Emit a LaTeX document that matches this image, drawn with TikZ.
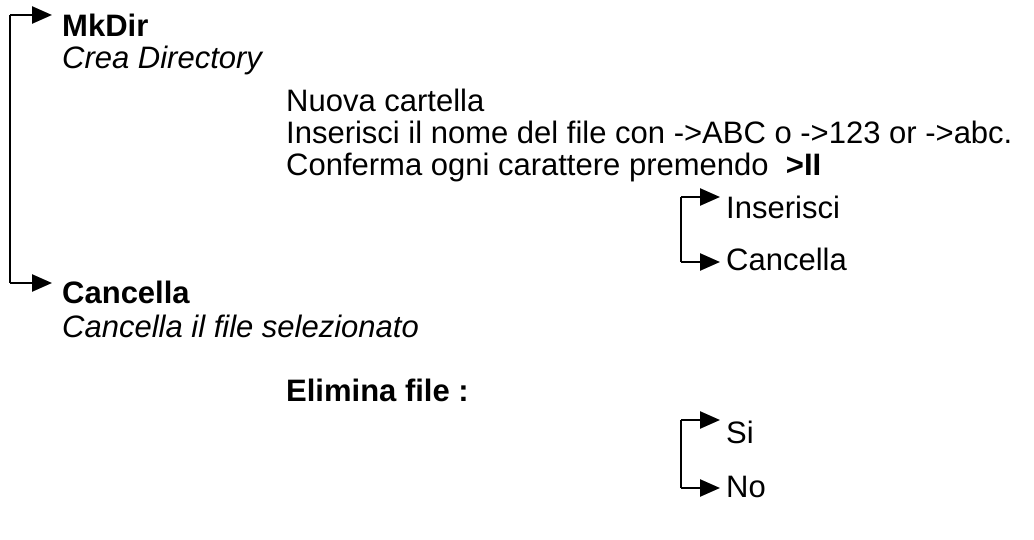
\documentclass[tikz,border=0pt]{standalone}
\usepackage{fontspec}
\setmainfont{Liberation Sans}
\usetikzlibrary{arrows.meta}
\begin{document}
\begin{tikzpicture}[x=1pt,y=-1pt,
  txt/.style={anchor=base west,inner sep=0pt,font=\fontsize{31}{36}\selectfont},
  bt/.style={txt,font=\fontsize{31}{36}\selectfont\bfseries},
  it/.style={txt,font=\fontsize{31}{36}\selectfont\itshape},
  arr/.style={line width=2.5pt,-{Triangle[length=20pt,width=17pt]}},
  ln/.style={line width=2.5pt}]
\useasboundingbox (0,0) rectangle (1034,540);
\node[bt] (mk) at (62,37) {MkDir};
\node[it] (crea) at (62,69) {Crea Directory};
\node[txt] (nc) at (286,112) {Nuova cartella};
\node[txt] (ins) at (286,144) {Inserisci il nome del file con ->ABC o ->123 or ->abc.};
\node[txt] (conf) at (286,176) {Conferma ogni carattere premendo \ \textbf{>II}};
\node[txt] (i1) at (726,219) {Inserisci};
\node[txt] (c1) at (726,271) {Cancella};
\node[bt] (canc) at (62,304) {Cancella};
\node[it] (cfs) at (62,337) {Cancella il file selezionato};
\node[bt] (el) at (286,401) {Elimina file :};
\node[txt] (si) at (726,443) {Si};
\node[txt] (no) at (726,497) {No};
\coordinate (a1) at (10,15); \coordinate (a2) at (10,283);
\coordinate (b1) at (681,197); \coordinate (b2) at (681,262);
\coordinate (d1) at (681,420); \coordinate (d2) at (681,488);
\draw[ln] (a1) -- (a2);
\draw[arr] (a1) -- (52,15);
\draw[arr] (a2) -- (52,283);
\draw[ln] (b1) -- (b2);
\draw[arr] (b1) -- (720,197);
\draw[arr] (b2) -- (720,262);
\draw[ln] (d1) -- (d2);
\draw[arr] (d1) -- (720,420);
\draw[arr] (d2) -- (720,488);
\end{tikzpicture}
\end{document}
